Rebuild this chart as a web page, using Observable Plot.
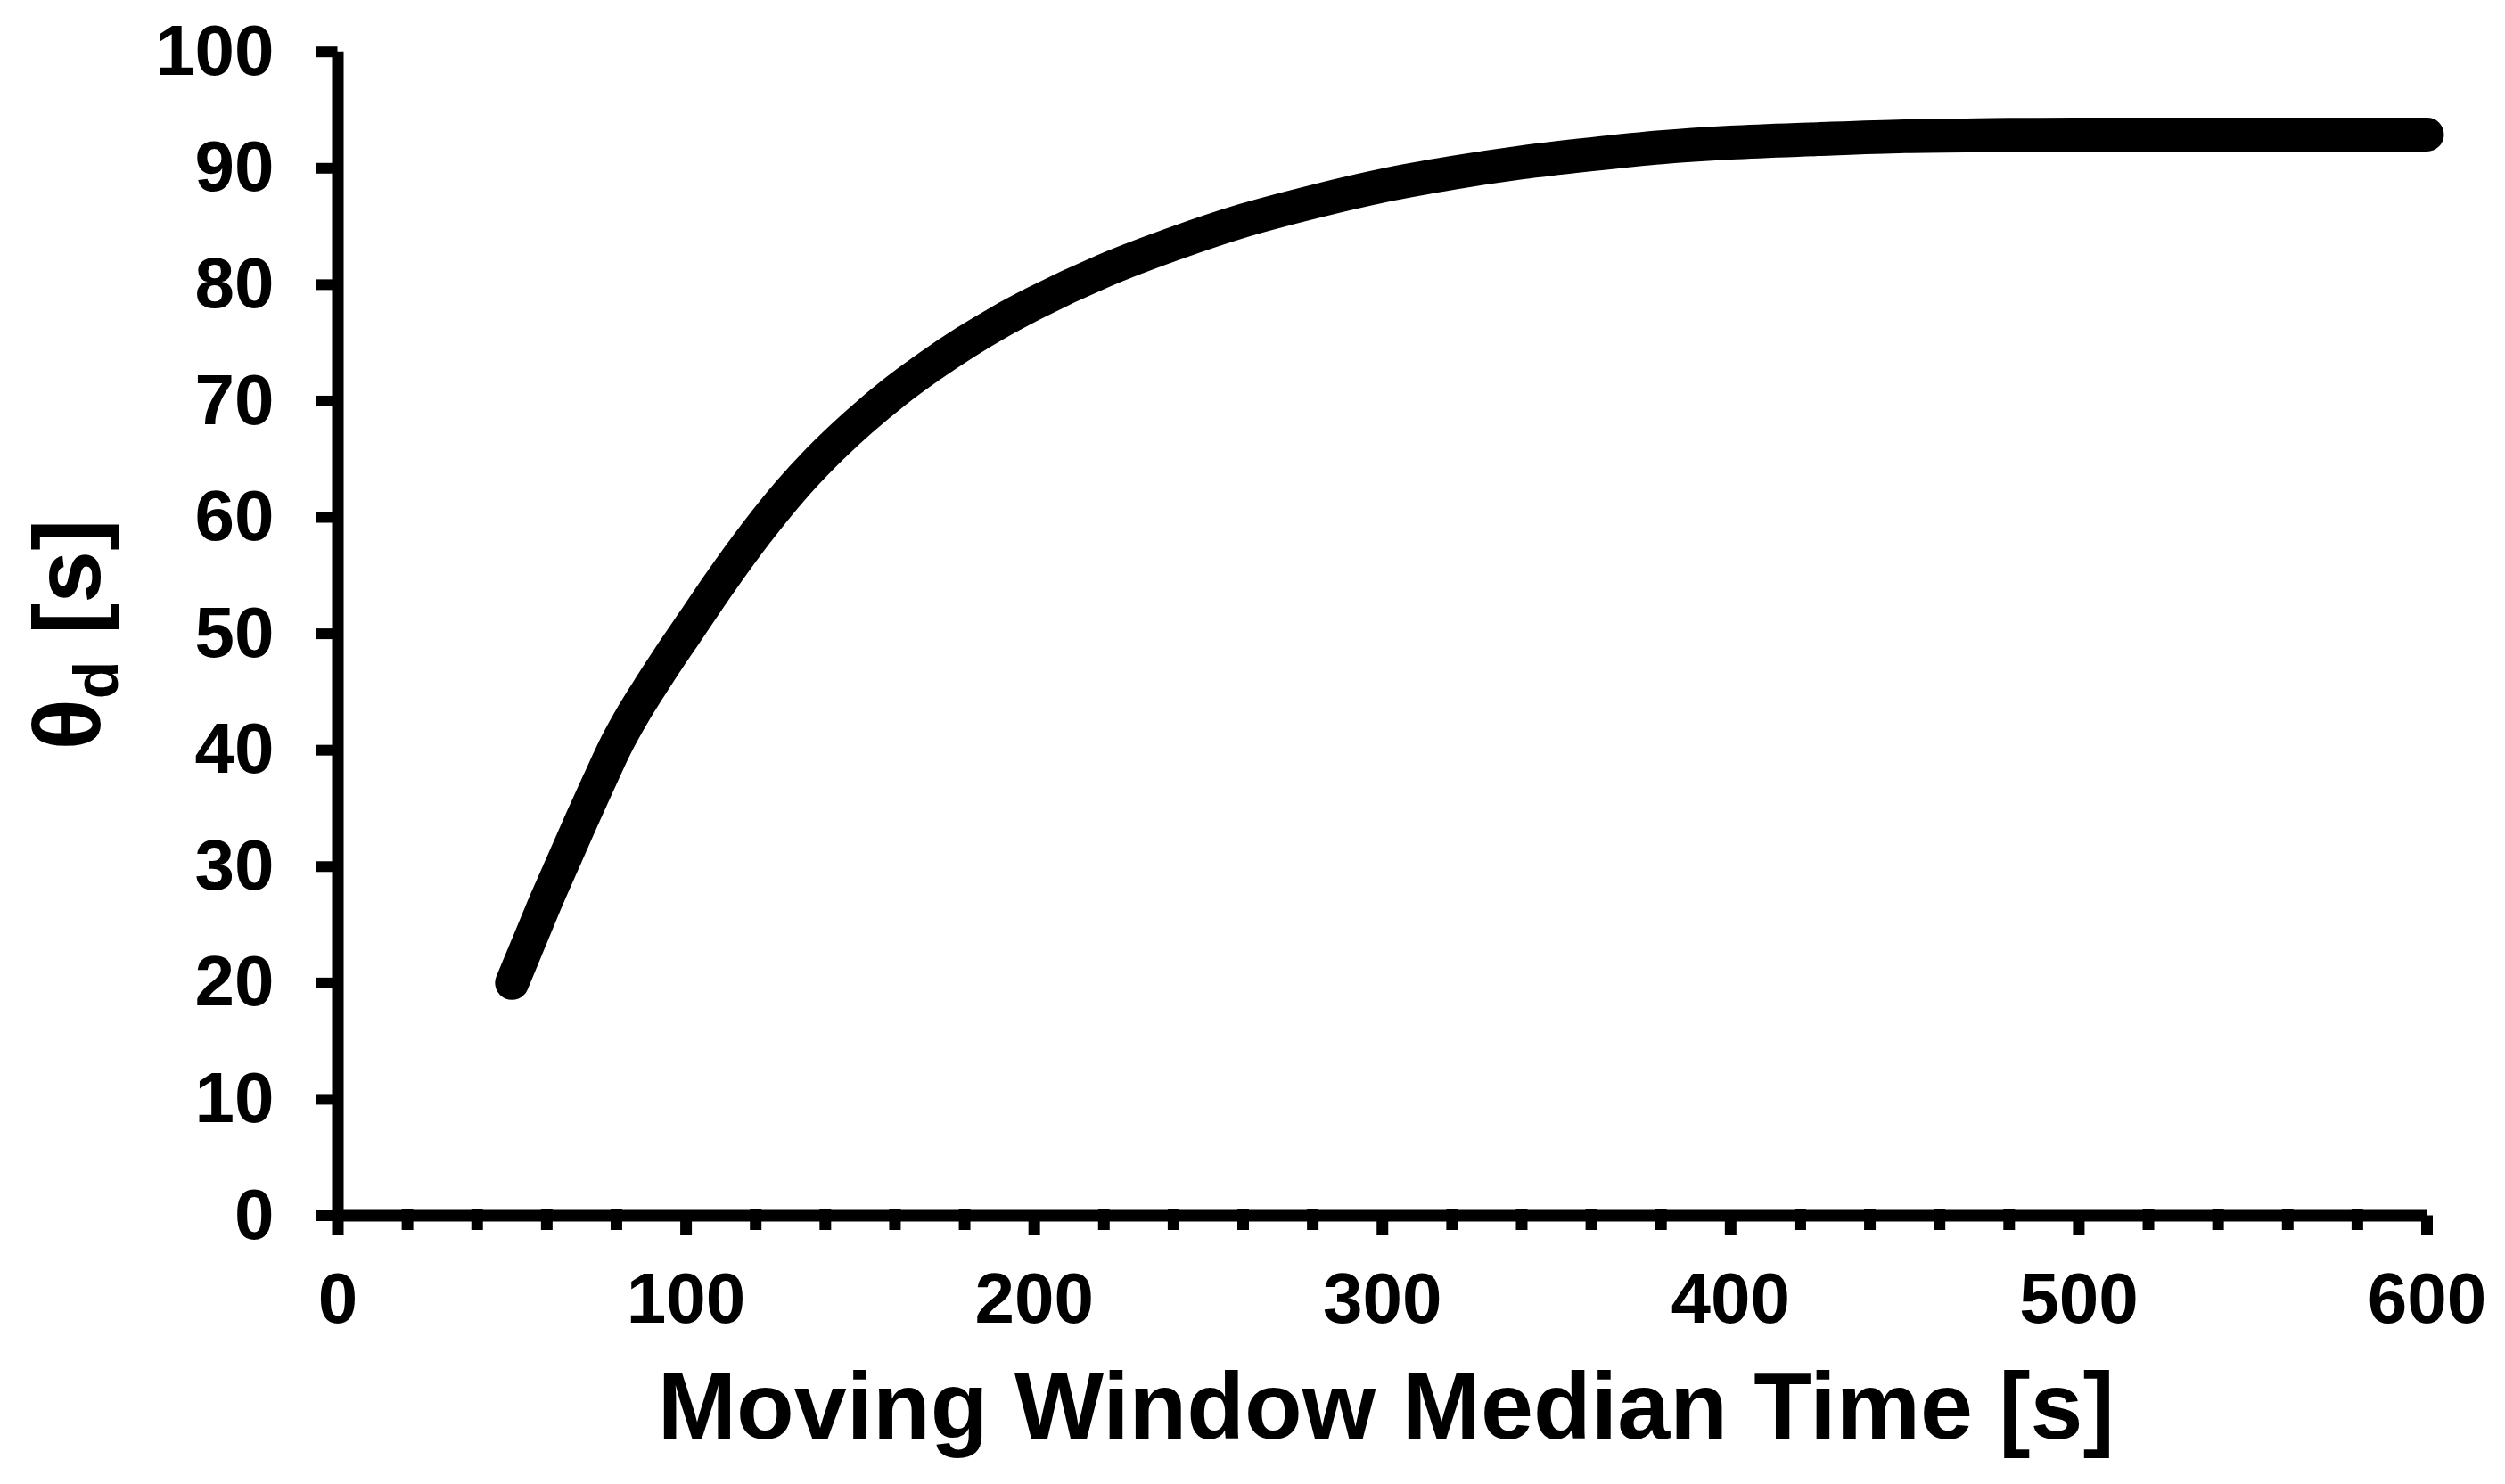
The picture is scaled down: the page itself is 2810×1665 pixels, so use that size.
<!DOCTYPE html>
<html><head><meta charset="utf-8">
<script src="https://cdn.jsdelivr.net/npm/d3@7"></script>
<script src="https://cdn.jsdelivr.net/npm/@observablehq/plot@0.6"></script>
<style>
html,body{margin:0;padding:0;background:#fff;}
</style></head><body><div id="chart"></div>
<script>
// Data
const timeS  = [50,55,60,65,70,75,80,85,90,95,100,110,120,130,140,150,160,170,180,190,200,220,240,260,280,300,320,340,360,380,400,425,450,475,500,550,600];
const thetaD = [20,23.6,27.2,30.6,34,37.3,40.5,43.2,45.6,47.9,50.1,54.5,58.6,62.3,65.5,68.3,70.8,73,75,76.8,78.4,81.2,83.5,85.5,87.1,88.5,89.6,90.5,91.2,91.8,92.2,92.5,92.75,92.85,92.9,92.9,92.9];
const xTicks = [0,100,200,300,400,500,600];
const xMinorTicks = [20,40,60,80,120,140,160,180,220,240,260,280,320,340,360,380,420,440,460,480,520,540,560,580];
const yTicks = [0,10,20,30,40,50,60,70,80,90,100];
const xTitle = "Moving Window Median Time [s]";
const yTitleMain = "θ";
const yTitleSub = "d";
const yTitleUnit = "[s]";

const data = timeS.map((t, i) => ({t, v: thetaD[i]}));
const FONT = "'Liberation Sans', Arial, sans-serif";

const chart = Plot.plot({
  width: 2810,
  height: 1665,
  marginLeft: 378.5,
  marginRight: 88,
  marginTop: 57.7,
  marginBottom: 301.5,
  style: {fontFamily: FONT, background: "#fff", color: "#000"},
  x: {domain: [0, 600]},
  y: {domain: [0, 100]},
  marks: [
    Plot.line(data, {x: "t", y: "v", stroke: "#000", strokeWidth: 38, strokeLinecap: "round", strokeLinejoin: "round", curve: "monotone-x"}),
    Plot.ruleY([0], {stroke: "#000", strokeWidth: 13}),
    Plot.ruleX([0], {stroke: "#000", strokeWidth: 13}),
    Plot.ruleX(xMinorTicks, {x: d => d, y1: 0, y2: 0, insetTop: -6.5, insetBottom: -16.5, stroke: "#000", strokeWidth: 13}),
    Plot.axisX({ticks: xTicks, tickSize: 22.5, tickPadding: 41, strokeWidth: 13, fontSize: 80, fontWeight: "bold", fill: "#000", label: null, tickFormat: d => String(d)}),
    Plot.axisY({ticks: yTicks, tickSize: 23.5, tickPadding: 48, strokeWidth: 12, fontSize: 80, fontWeight: "bold", fill: "#000", label: null, tickFormat: d => String(d)}),
    Plot.text([xTitle], {frameAnchor: "bottom", lineAnchor: "bottom", dx: 4, dy: 249.5, fontSize: 106, fontWeight: "bold", fill: "#000", text: d => d})
  ]
});

// y-axis title with subscript
const svg = d3.select(chart);
const yt = svg.append("text")
  .attr("transform", "translate(112,712) rotate(-90)")
  .attr("text-anchor", "middle")
  .attr("font-family", FONT)
  .attr("font-weight", "bold")
  .attr("font-size", 106)
  .attr("fill", "#000");
yt.append("tspan").text(yTitleMain);
yt.append("tspan").attr("font-size", 70).attr("dy", 20).text(yTitleSub);
yt.append("tspan").attr("dy", -20).text("\u00a0" + yTitleUnit);

document.getElementById("chart").appendChild(chart);
</script></body></html>
